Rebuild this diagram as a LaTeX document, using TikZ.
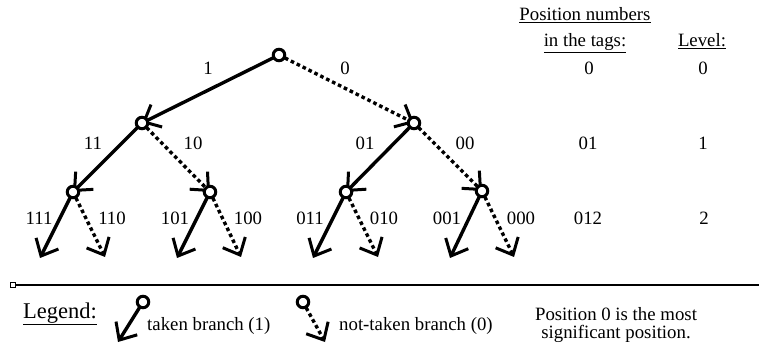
\documentclass[tikz,border=0pt]{standalone}
\usepackage{fontspec}
\setmainfont{Liberation Serif}
\usetikzlibrary{arrows.meta}
\begin{document}
\begin{tikzpicture}[x=1pt,y=-1pt,
  br/.style={line width=3.4pt},
  barb/.style={-{Straight Barb[length=14pt,width=25pt,line width=3pt]}},
  taken/.style={br,barb},
  nottaken/.style={br,barb,dash pattern=on 3.6pt off 3pt},
  dot/.style={circle,draw,line width=3pt,fill=white,minimum size=11.5pt,inner sep=0pt},
  lbl/.style={font=\fontsize{18.8}{20}\selectfont,inner sep=0pt,anchor=base},
  lgd/.style={font=\fontsize{22.5}{24}\selectfont,inner sep=0pt,anchor=base}]
\useasboundingbox (0,0) rectangle (759,344);
% tree coordinates
\coordinate (r) at (279,55);
\coordinate (a) at (142,123);
\coordinate (b) at (414,123);
\coordinate (c) at (73,192);
\coordinate (d) at (210,192);
\coordinate (e) at (346,192);
\coordinate (f) at (482,191);
\coordinate (c1) at (40,258);
\coordinate (c0) at (105,257);
\coordinate (d1) at (177,258);
\coordinate (d0) at (241,257);
\coordinate (e1) at (313,258);
\coordinate (e0) at (378,257);
\coordinate (f1) at (450,258);
\coordinate (f0) at (514,257);
% branches
\draw[taken] (r) -- (a);
\draw[nottaken] (r) -- (b);
\draw[taken] (a) -- (c);
\draw[nottaken] (a) -- (d);
\draw[taken] (b) -- (e);
\draw[nottaken] (b) -- (f);
\draw[taken] (c) -- (c1);
\draw[nottaken] (c) -- (c0);
\draw[taken] (d) -- (d1);
\draw[nottaken] (d) -- (d0);
\draw[taken] (e) -- (e1);
\draw[nottaken] (e) -- (e0);
\draw[taken] (f) -- (f1);
\draw[nottaken] (f) -- (f0);
% nodes
\node[dot] (nr) at (r) {};
\node[dot] (na) at (a) {};
\node[dot] (nb) at (b) {};
\node[dot] (nc) at (c) {};
\node[dot] (nd) at (d) {};
\node[dot] (ne) at (e) {};
\node[dot] (nf) at (f) {};
% branch labels
\node[lbl] (t1) at (208,75) {1};
\node[lbl] (t0) at (345,75) {0};
\node[lbl] (t11) at (93,150) {11};
\node[lbl] (t10) at (193,150) {10};
\node[lbl] (t01) at (365,150) {01};
\node[lbl] (t00) at (465,150) {00};
\node[lbl] (t111) at (39,225) {111};
\node[lbl] (t110) at (112,225) {110};
\node[lbl] (t101) at (175,225) {101};
\node[lbl] (t100) at (248,225) {100};
\node[lbl] (t011) at (310,225) {011};
\node[lbl] (t010) at (384,225) {010};
\node[lbl] (t001) at (447,225) {001};
\node[lbl] (t000) at (521,225) {000};
% right columns
\node[lbl] (ph1) at (585,21) {\underline{Position numbers}};
\node[lbl] (ph2) at (585,47) {\underline{in the tags:}};
\node[lbl] (lh) at (702,47) {\underline{Level:}};
\node[lbl] (p0) at (589,75) {0};
\node[lbl] (l0) at (703,75) {0};
\node[lbl] (p1) at (588,150) {01};
\node[lbl] (l1) at (703,150) {1};
\node[lbl] (p2) at (588,225) {012};
\node[lbl] (l2) at (704,225) {2};
% separator
\node[draw,line width=1.2pt,minimum size=4.5pt,inner sep=0pt] (sq) at (13,285) {};
\coordinate (hend) at (759,285);
\draw[line width=1.6pt] (sq.east) -- (hend);
% legend
\node[lgd] (lg) at (60,318) {\underline{Legend:}};
\coordinate (g1) at (143,302);
\coordinate (g1t) at (118,342);
\coordinate (g0) at (303,302);
\coordinate (g0t) at (325,342);
\draw[taken] (g1) -- (g1t);
\draw[nottaken] (g0) -- (g0t);
\node[dot] (ng1) at (g1) {};
\node[dot] (ng0) at (g0) {};
\node[lbl,anchor=base west] (gt1) at (147,330) {taken branch (1)};
\node[lbl,anchor=base west] (gt0) at (339,330) {not-taken branch (0)};
\node[lbl] (ps1) at (616,320) {Position 0 is the most};
\node[lbl] (ps2) at (616,338) {significant position.};
\end{tikzpicture}
\end{document}
